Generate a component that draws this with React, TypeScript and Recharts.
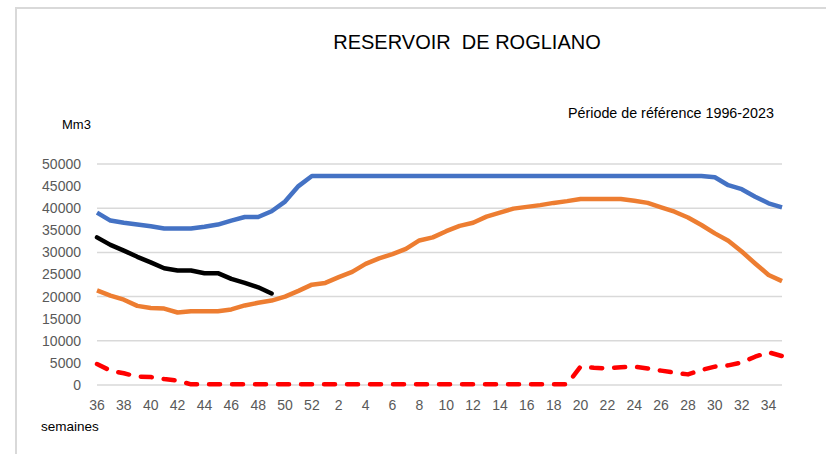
import { LineChart, Line, XAxis, YAxis, CartesianGrid } from 'recharts';

// weeks 36..52 then 1..35
const weeks = [
  36, 37, 38, 39, 40, 41, 42, 43, 44, 45, 46, 47, 48, 49, 50, 51, 52,
  1, 2, 3, 4, 5, 6, 7, 8, 9, 10, 11, 12, 13, 14, 15, 16, 17, 18, 19, 20,
  21, 22, 23, 24, 25, 26, 27, 28, 29, 30, 31, 32, 33, 34, 35,
];

const maxVol = [
  39000, 37200, 36700, 36300, 35900, 35400, 35400, 35400, 35800, 36300, 37200, 38000, 38000, 39300, 41500, 45000, 47300,
  47300, 47300, 47300, 47300, 47300, 47300, 47300, 47300, 47300, 47300, 47300, 47300, 47300, 47300, 47300, 47300, 47300, 47300, 47300, 47300,
  47300, 47300, 47300, 47300, 47300, 47300, 47300, 47300, 47300, 47000, 45200, 44300, 42600, 41100, 40200,
];

const meanVol = [
  21400, 20200, 19300, 17900, 17400, 17300, 16400, 16700, 16700, 16700, 17100, 18000, 18600, 19100, 20000, 21300, 22700,
  23100, 24400, 25600, 27400, 28650, 29600, 30800, 32700, 33400, 34800, 36000, 36700, 38100, 39000, 39900, 40300, 40700, 41200, 41600, 42100,
  42100, 42100, 42100, 41700, 41200, 40200, 39200, 37900, 36200, 34300, 32650, 30200, 27500, 24900, 23500,
];

const minVol = [
  4750, 3250, 2650, 1900, 1800, 1350, 1000, 150, 150, 150, 150, 150, 150, 150, 150, 150, 150,
  150, 150, 150, 150, 150, 150, 150, 150, 150, 150, 150, 150, 150, 150, 150, 150, 150, 150, 150, 4150,
  3900, 3750, 4000, 4150, 3750, 3250, 2800, 2400, 3400, 4150, 4450, 5100, 6400, 7400, 6550,
];

const currentVol = [
  33400, 31700, 30400, 29000, 27750, 26400, 25900, 25900, 25300, 25300, 24000, 23100, 22100, 20700,
];

const yTicks = [0, 5000, 10000, 15000, 20000, 25000, 30000, 35000, 40000, 45000, 50000];

const data = weeks.map((w, i) => ({
  week: String(w),
  max: maxVol[i],
  mean: meanVol[i],
  min: minVol[i],
  current: i < currentVol.length ? currentVol[i] : null,
}));

const font = '"Liberation Sans", Arial, sans-serif';
const tickStyle = { fill: '#595959', fontSize: 14, fontFamily: font };

export default function App() {
  return (
    <div style={{ position: 'absolute', left: 0, top: 0, width: 826, height: 454, background: '#fff', fontFamily: font }}>
      <div
        style={{
          position: 'absolute',
          left: 15,
          top: 7,
          right: 0,
          bottom: 0,
          borderLeft: '2px solid #d9d9d9',
          borderTop: '2px solid #d9d9d9',
        }}
      />
      <div style={{ position: 'absolute', left: 0, width: 934, top: 31, textAlign: 'center', fontSize: 20, color: '#000', whiteSpace: 'pre' }}>
        {'RESERVOIR  DE ROGLIANO'}
      </div>
      <div style={{ position: 'absolute', left: 568, top: 105, fontSize: 14.3, color: '#000' }}>
        Période de référence 1996-2023
      </div>
      <div style={{ position: 'absolute', left: 62, top: 117, fontSize: 13, color: '#000' }}>Mm3</div>
      <div style={{ position: 'absolute', left: 41, top: 419, fontSize: 13.5, color: '#000' }}>semaines</div>
      <div style={{ position: 'absolute', left: 0, top: 0 }}>
        <LineChart width={826} height={454} data={data} margin={{ top: 164, right: 44, left: 0, bottom: 39 }}>
          <CartesianGrid vertical={false} stroke="#d9d9d9" strokeWidth={1.5} />
          <XAxis
            dataKey="week"
            interval={1}
            tickLine={false}
            axisLine={false}
            tickSize={0}
            tickMargin={15}
            height={30}
            tick={tickStyle}
          />
          <YAxis
            domain={[0, 50000]}
            ticks={yTicks}
            width={97}
            tickLine={false}
            axisLine={false}
            tickSize={0}
            tickMargin={16}
            tick={tickStyle}
          />
          <Line
            type="linear"
            dataKey="max"
            stroke="#4472C4"
            strokeWidth={4.5}
            dot={false}
            strokeLinejoin="round"
            isAnimationActive={false}
          />
          <Line
            type="linear"
            dataKey="mean"
            stroke="#ED7D31"
            strokeWidth={4.5}
            dot={false}
            strokeLinejoin="round"
            isAnimationActive={false}
          />
          <Line
            type="linear"
            dataKey="min"
            stroke="#FF0000"
            strokeWidth={4.5}
            strokeDasharray="11 12"
            strokeLinecap="round"
            dot={false}
            strokeLinejoin="round"
            isAnimationActive={false}
          />
          <Line
            type="linear"
            dataKey="current"
            stroke="#000000"
            strokeWidth={4.5}
            dot={false}
            strokeLinejoin="round"
            strokeLinecap="round"
            isAnimationActive={false}
          />
        </LineChart>
      </div>
    </div>
  );
}
